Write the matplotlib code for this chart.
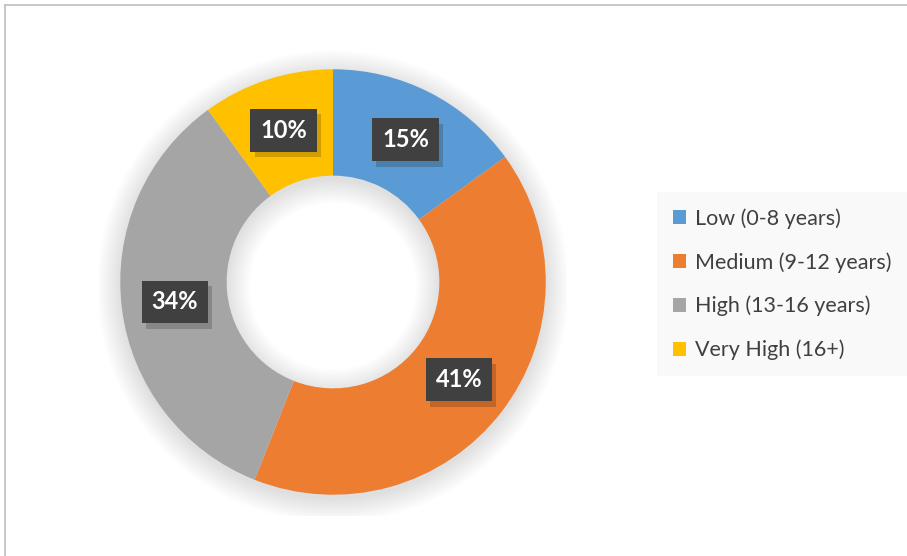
import numpy as np
import matplotlib
matplotlib.use("Agg")
import matplotlib.pyplot as plt
import matplotlib.patheffects as pe
from matplotlib.patches import Wedge, Rectangle
from matplotlib.lines import Line2D

categories = ["Low (0-8 years)", "Medium (9-12 years)", "High (13-16 years)", "Very High (16+)"]
shares = [15, 41, 34, 10]
colors = ["#5B9BD5", "#ED7D31", "#A5A5A5", "#FFC000"]

plt.rcParams["font.family"] = ["Lato", "DejaVu Sans"]

W, H = 907, 556
fig = plt.figure(figsize=(W / 100, H / 100), dpi=100)
fig.patch.set_facecolor("white")

# chart area border (only top/left visible in the crop)
fig.add_artist(Line2D([5 / W, 5 / W], [0, 1 - 5 / H], color="#BFBFBF", lw=1.2))
fig.add_artist(Line2D([5 / W, 1], [1 - 5 / H, 1 - 5 / H], color="#BFBFBF", lw=1.2))

cx, cy, half = 333, 282, 234
ax = fig.add_axes([(cx - half) / W, (H - cy - half) / H, 2 * half / W, 2 * half / H])
ax.set_aspect("equal")
ax.axis("off")

# soft shadow behind the ring
for d in np.linspace(0.0, 0.11, 16):
    ax.add_patch(Wedge((0.0, -0.02), 1.0 + d, 0, 360, width=0.5 + 2 * d,
                       facecolor="black", edgecolor="none", alpha=0.009, zorder=0))

wedges, _ = ax.pie(shares, colors=colors, startangle=90, counterclock=False,
                   radius=1.0, wedgeprops=dict(width=0.5, edgecolor="none"),
                   center=(0, 0), frame=False)
for w in wedges:
    w.set_zorder(2)
ax.set_xlim(-1.1, 1.1)
ax.set_ylim(-1.1, 1.1)

for w, v in zip(wedges, shares):
    ang = np.deg2rad((w.theta1 + w.theta2) / 2)
    x, y = 0.75 * np.cos(ang), 0.75 * np.sin(ang)
    t = ax.text(x, y, f"{v}%", ha="center", va="center", fontsize=17,
                fontweight="bold", color="white", zorder=4,
                bbox=dict(boxstyle="square,pad=0.42", fc="#404040", ec="none"))
    t.get_bbox_patch().set_path_effects([
        pe.withSimplePatchShadow(offset=(3, -4), shadow_rgbFace="black", alpha=0.18),
        pe.Normal()])

handles = [Rectangle((0, 0), 1, 1, facecolor=c, edgecolor="none") for c in colors]
leg = fig.legend(handles, categories, loc="upper left",
                 bbox_to_anchor=(657 / W, 1 - 192 / H), frameon=True,
                 fontsize=15.5, handlelength=0.6, handleheight=0.6,
                 handletextpad=0.4, labelspacing=1.08, borderpad=0.75,
                 borderaxespad=0, labelcolor="#404040")
leg.get_frame().set_facecolor("#F8F8F8")
leg.get_frame().set_edgecolor("none")
leg.get_frame().set_boxstyle("square", pad=0)

fig.savefig("out.png", dpi=100)
